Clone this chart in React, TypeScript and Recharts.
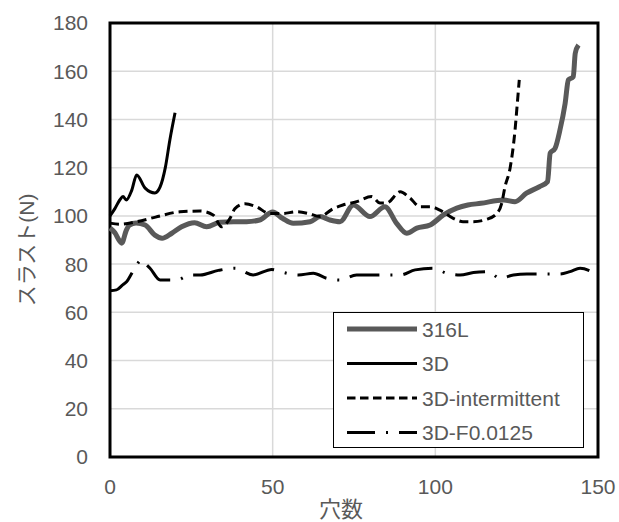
import React from "react";
import {
  LineChart,
  Line,
  XAxis,
  YAxis,
  CartesianGrid,
  ReferenceArea,
} from "recharts";

// 穴数 (x) and thrust values (y), one pair of arrays per series
const holes316L = [0, 1.5, 3, 3.6, 5, 6, 8, 10.8, 13.8, 16, 19, 22, 26, 29.7, 33.8, 38, 42, 46, 50, 53, 56.3, 61.5, 64.6, 67.6, 70.7, 74.8, 79.9, 84.5, 88.1, 91.2, 94.3, 98.4, 102.5, 106.6, 110, 114, 121, 124.5, 128, 132, 134.5, 135.3, 136.8, 138.3, 139.9, 140.9, 142.4, 143, 144];
const thrust316L = [95, 93, 89.5, 88.7, 94, 96.2, 97, 96.2, 92, 90.7, 92.8, 95.5, 97.2, 95.5, 97.4, 97.6, 97.6, 98.3, 101.6, 99, 96.9, 97.6, 99.7, 98.3, 97.6, 104.5, 99.7, 103.8, 96.9, 92.8, 94.9, 96.2, 100.4, 103.2, 104.5, 105.2, 106.6, 105.9, 109.4, 112.1, 114.2, 126, 128, 135.6, 146.7, 156.4, 157.7, 167.4, 170.9];

const holes3D = [0, 1.5, 3, 4, 5, 6.7, 8.2, 10.8, 13.8, 15.4, 17, 18.4, 20];
const thrust3D = [100, 103, 106.6, 108, 106.6, 110.7, 117, 111.5, 109.5, 112, 120, 131.5, 142.8];

const holesInt = [0, 3, 8, 14, 21.5, 27.7, 31.7, 34.3, 36.9, 38.4, 41.5, 45, 49, 53, 57.4, 61, 64.5, 68.6, 71.6, 75.8, 80.4, 83, 85, 89.2, 92.2, 95.3, 98.4, 101.4, 105.5, 108.5, 111.6, 115.8, 118.9, 120.4, 121.4, 123, 124.5, 125.2, 125.8];
const thrustInt = [97, 96.5, 97.5, 99.5, 101.7, 102, 100.4, 95.5, 99, 103, 105, 103.8, 101, 101, 101.7, 101, 99.7, 103, 104.5, 105.9, 108, 105.3, 105.3, 110, 107.4, 103.8, 103.8, 102.4, 99, 97.6, 97.6, 98.6, 101, 105.2, 112, 120, 135.6, 146.7, 156.4];

const holesF = [0, 2, 4, 5.1, 7.2, 9.7, 11.3, 12.3, 15.4, 20.5, 24.6, 27.7, 33.3, 38.4, 44, 49.7, 52.3, 57.9, 62.5, 66.6, 70.7, 75.8, 80.4, 89.2, 93.8, 99.4, 103.5, 107.6, 111.7, 116.3, 119.9, 124, 128.1, 134.2, 138.3, 141.4, 144.5, 148.1];
const thrustF = [69, 69.3, 71.5, 72.7, 77.3, 81.7, 79.6, 78.3, 73.4, 73.4, 75.5, 75.5, 77.4, 78.3, 75.5, 77.8, 76.9, 75.5, 76.2, 74.1, 73.4, 75.5, 75.5, 75.5, 77.6, 78.3, 76.2, 75.5, 76.5, 76.9, 74.1, 75.5, 75.9, 75.9, 75.9, 76.9, 78.3, 76.9];

const xTicks = [0, 50, 100, 150];
const yTicks = [0, 20, 40, 60, 80, 100, 120, 140, 160, 180];

const toPoints = (xs: number[], ys: number[]) => xs.map((x, i) => ({ x, y: ys[i] }));

const series = [
  { name: "316L", data: toPoints(holes316L, thrust316L), color: "#595959", width: 5, dash: undefined as string | undefined, legendDash: undefined as string | undefined },
  { name: "3D", data: toPoints(holes3D, thrust3D), color: "#000000", width: 3, dash: undefined, legendDash: undefined },
  { name: "3D-intermittent", data: toPoints(holesInt, thrustInt), color: "#000000", width: 3, dash: "9 5", legendDash: "8.5 4.5" },
  { name: "3D-F0.0125", data: toPoints(holesF, thrustF), color: "#000000", width: 3, dash: "30 11 2 11", legendDash: "28 11 2 11" },
];

const FONT = "'Liberation Sans', Arial, 'Noto Sans CJK JP', sans-serif";
const TEXT = "#595959";

// legend drawn as an overlay so it doesn't shrink the plot area
const LegendBox = () => (
  <svg width={251} height={136} style={{ display: "block" }}>
    <rect x={0.5} y={0.5} width={250} height={135} fill="#fff" stroke="#000" strokeWidth={1} />
    {series.map((s, i) => {
      const cy = 17 + i * 34.5;
      return (
        <g key={s.name}>
          <line x1={14} x2={84} y1={cy} y2={cy} stroke={s.color} strokeWidth={s.width} strokeDasharray={s.legendDash} />
          <text x={89} y={cy} dominantBaseline="central" fontSize={21} fill={TEXT} fontFamily={FONT}>
            {s.name}
          </text>
        </g>
      );
    })}
  </svg>
);

export default function App() {
  return (
    <div style={{ position: "absolute", left: 0, top: 0, width: 619, height: 522, background: "#fff" }}>
      <LineChart width={619} height={522} margin={{ top: 23, right: 21, bottom: 0, left: 0 }}>
        <CartesianGrid stroke="#d9d9d9" strokeWidth={1.5} />
        <XAxis
          type="number"
          dataKey="x"
          domain={[0, 150]}
          ticks={xTicks}
          height={65}
          axisLine={false}
          tickLine={false}
          tickSize={0}
          tickMargin={22}
          tick={{ fill: TEXT, fontSize: 21, fontFamily: FONT }}
          label={{
            content: () => (
              <text x={341} y={517} textAnchor="middle" fontSize={22} fill={TEXT} fontFamily={FONT}>
                穴数
              </text>
            ),
          }}
        />
        <YAxis
          type="number"
          domain={[0, 180]}
          ticks={yTicks}
          width={110}
          axisLine={false}
          tickLine={false}
          tickSize={0}
          tickMargin={22}
          tick={{ fill: TEXT, fontSize: 21, fontFamily: FONT }}
          label={{
            content: () => (
              <text
                x={26}
                y={250}
                transform="rotate(-90 26 250)"
                textAnchor="middle"
                dominantBaseline="central"
                fontSize={21}
                fill={TEXT}
                fontFamily={FONT}
              >
                スラスト(N)
              </text>
            ),
          }}
        />
        {series.map((s) => (
          <Line
            key={s.name}
            data={s.data}
            dataKey="y"
            name={s.name}
            type="monotone"
            stroke={s.color}
            strokeWidth={s.width}
            strokeDasharray={s.dash}
            dot={false}
            activeDot={false}
            isAnimationActive={false}
          />
        ))}
        <ReferenceArea
          x1={0}
          x2={150}
          y1={0}
          y2={180}
          fill="none"
          fillOpacity={0}
          stroke="#000"
          strokeWidth={3}
          ifOverflow="visible"
        />
      </LineChart>
      <div style={{ position: "absolute", left: 333, top: 312 }}>
        <LegendBox />
      </div>
    </div>
  );
}
